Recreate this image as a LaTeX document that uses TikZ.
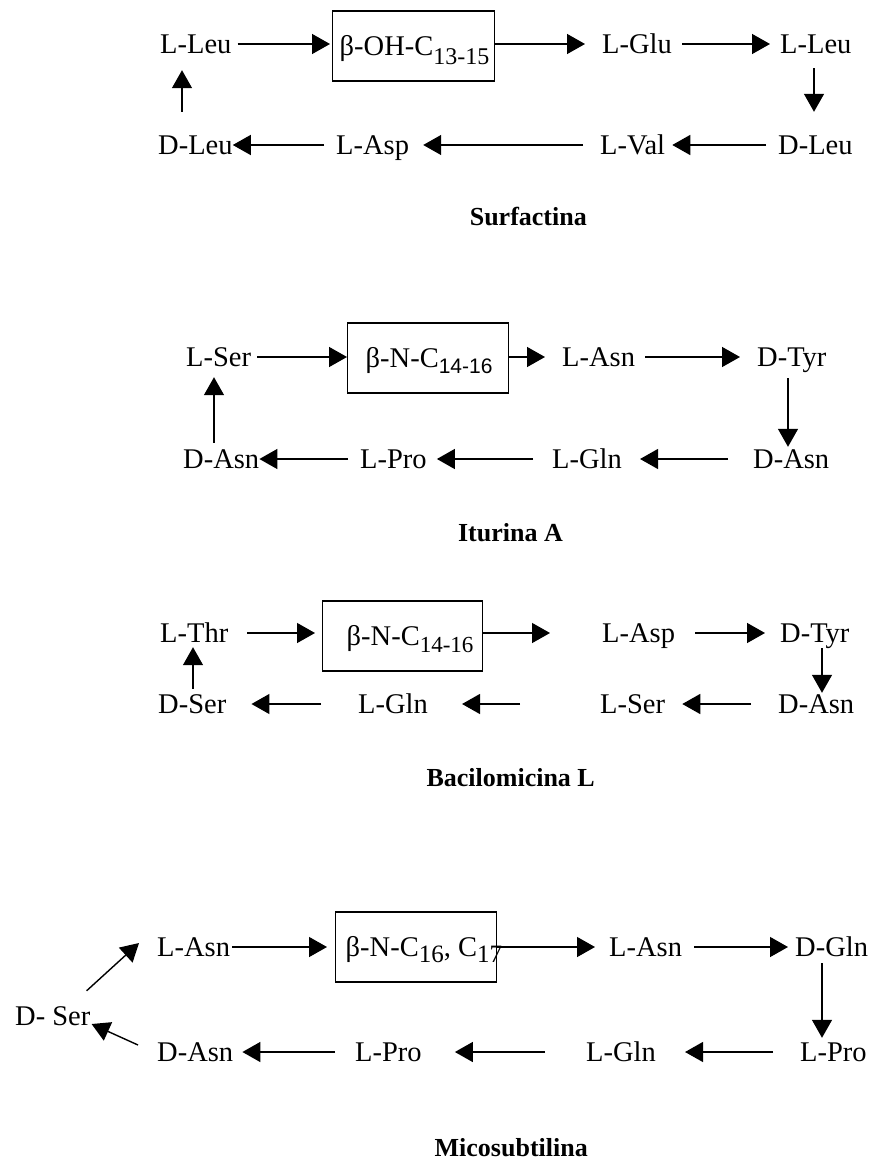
\documentclass[tikz,border=0pt]{standalone}
\usepackage{fontspec}
\setmainfont{Liberation Serif}
\newfontfamily\subsans{Liberation Sans}
\usetikzlibrary{arrows.meta}
\tikzset{
  lbl/.style={inner sep=0pt, anchor=west, font=\fontsize{28.5}{30}\selectfont, text height=19pt, text depth=0pt},
  boxn/.style={lbl, draw, line width=1.4pt, minimum height=70pt},
  ttl/.style={inner sep=0pt, anchor=east, font=\bfseries\fontsize{26}{28}\selectfont, text height=17pt, text depth=0pt},
  arr/.style={line width=1.4pt, -{Triangle[length=18pt,width=20pt]}},
}
\newcommand{\subtxt}[3]{\raisebox{-#1pt}{\fontsize{#2}{#2}\selectfont #3}}
\begin{document}
\begin{tikzpicture}[x=1pt,y=-1pt]
\useasboundingbox (0,0) rectangle (872,1169);

% ---------------- Surfactina
\node[lbl] (s1) at (160,44) {L-Leu};
\node[boxn] (s2) at (332,46) {\makebox[162pt][l]{\hspace{7pt}β-OH-C\subtxt{9}{24}{13-15}}};
\node[lbl] (s3) at (602,44) {L-Glu};
\node[lbl] (s4) at (780,44) {L-Leu};
\node[lbl] (s5) at (778,145) {D-Leu};
\node[lbl] (s6) at (600,145) {L-Val};
\node[lbl] (s7) at (336,145) {L-Asp};
\node[lbl] (s8) at (158,145) {D-Leu};
\node[ttl] (st) at (587,217) {Surfactina};

\draw[arr, shorten <=6pt, shorten >=2pt] (s1.east) -- (s1.east -| s2.west);
\draw[arr, shorten >=17pt] (s2.east |- s3.west) -- (s3.west);
\draw[arr, shorten <=10pt, shorten >=10pt] (s3.east) -- (s4.west);
\draw[arr, shorten <=14.5pt, shorten >=23.5pt] ([xshift=34pt]s4.south west) -- ([xshift=34pt]s4.south west |- s5.north);
\draw[arr, shorten <=12pt, shorten >=7pt] (s5.west) -- (s6.east);
\draw[arr, shorten <=17pt, shorten >=14pt] (s6.west) -- (s7.east);
\draw[arr, shorten <=12pt, shorten >=0pt] (s7.west) -- (s8.east);
\draw[arr, shorten <=23.5pt, shorten >=16.5pt] ([xshift=24pt]s8.north west) -- ([xshift=24pt]s8.north west |- s1.south);

% ---------------- Iturina A
\node[lbl] (t1) at (186,357) {L-Ser};
\node[boxn] (t2) at (347,358) {\makebox[161pt][l]{\hspace{18pt}β-N-C{\subsans\subtxt{6}{21}{14-16}}}};
\node[lbl] (t3) at (562,357) {L-Asn};
\node[lbl] (t4) at (757,357) {D-Tyr};
\node[lbl] (t5) at (753,459) {D-Asn};
\node[lbl] (t6) at (552,459) {L-Gln};
\node[lbl] (t7) at (360,459) {L-Pro};
\node[lbl] (t8) at (183,459) {D-Asn};
\node[ttl] (tt) at (563,533) {Iturina A};

\draw[arr, shorten <=6pt] (t1.east) -- (t1.east -| t2.west);
\draw[arr, shorten >=17pt] (t2.east |- t3.west) -- (t3.west);
\draw[arr, shorten <=10pt, shorten >=17pt] (t3.east) -- (t4.west);
\draw[arr, shorten <=11.5pt, shorten >=2.5pt] ([xshift=31pt]t4.south west) -- ([xshift=31pt]t4.south west |- t5.north);
\draw[arr, shorten <=25pt, shorten >=18pt] (t5.west) -- (t6.east);
\draw[arr, shorten <=19pt, shorten >=10pt] (t6.west) -- (t7.east);
\draw[arr, shorten <=12pt] (t7.west) -- (t8.east);
\draw[arr, shorten <=6.5pt, shorten >=10.5pt] ([xshift=31pt]t8.north west) -- ([xshift=31pt]t8.north west |- t1.south);

% ---------------- Bacilomicina L
\node[lbl] (b1) at (160,633) {L-Thr};
\node[boxn] (b2) at (322,636) {\makebox[160pt][l]{\hspace{24pt}β-N-C\subtxt{7}{23}{14-16}}};
\node[lbl] (b3) at (602,633) {L-Asp};
\node[lbl] (b4) at (780,633) {D-Tyr};
\node[lbl] (b5) at (778,704) {D-Asn};
\node[lbl] (b6) at (600,704) {L-Ser};
\node[lbl] (b7) at (358,704) {L-Gln};
\node[lbl] (b8) at (158,704) {D-Ser};
\node[ttl] (bt) at (595,778) {Bacilomicina L};

\draw[arr, shorten <=19pt, shorten >=7pt] (b1.east) -- (b1.east -| b2.west);
\draw[arr, shorten >=52pt] (b2.east |- b3.west) -- (b3.west);
\draw[arr, shorten <=20pt, shorten >=15pt] (b3.east) -- (b4.west);
\draw[arr, shorten <=5.5pt, shorten >=1.5pt] ([xshift=42pt]b4.south west) -- ([xshift=42pt]b4.south west |- b5.north);
\draw[arr, shorten <=27pt, shorten >=17pt] (b5.west) -- (b6.east);
\draw[arr, shorten <=80pt, shorten >=34pt] (b6.west) -- (b7.east);
\draw[arr, shorten <=37pt, shorten >=25pt] (b7.west) -- (b8.east);
\draw[arr, shorten <=5.5pt, shorten >=4.5pt] ([xshift=35pt]b8.north west) -- ([xshift=35pt]b8.north west |- b1.south);

% ---------------- Micosubtilina
\node[lbl] (m0) at (15,1016) {D- Ser};
\node[lbl] (m1) at (157,947) {L-Asn};
\node[boxn] (m2) at (335,947) {\makebox[161pt][l]{\hspace{10pt}β-N-C\subtxt{6}{25}{16}, C\subtxt{6}{25}{17}}};
\node[lbl] (m3) at (609,947) {L-Asn};
\node[lbl] (m4) at (795,947) {D-Gln};
\node[lbl] (m5) at (800,1052) {L-Pro};
\node[lbl] (m6) at (586,1052) {L-Gln};
\node[lbl] (m7) at (355,1052) {L-Pro};
\node[lbl] (m8) at (157,1052) {D-Asn};
\node[ttl] (mt) at (588,1148) {Micosubtilina};

\draw[arr] ([shift={(-4,-15.5)}]m0.north east) -- ([shift={(-18,-4)}]m1.west);
\draw[arr, shorten <=2pt, shorten >=8pt] (m1.east) -- (m2.west);
\draw[arr, shorten >=14pt] (m2.east) -- (m3.west);
\draw[arr, shorten <=12pt, shorten >=7pt] (m3.east) -- (m4.west);
\draw[arr, shorten <=6.5pt, shorten >=4.5pt] ([xshift=27pt]m4.south west) -- ([xshift=27pt]m4.south west |- m5.north);
\draw[arr, shorten <=27pt, shorten >=29pt] (m5.west) -- (m6.east);
\draw[arr, shorten <=41pt, shorten >=33pt] (m6.west) -- (m7.east);
\draw[arr, shorten <=20pt, shorten >=9pt] (m7.west) -- (m8.east);
\draw[arr] ([shift={(-19,-7)}]m8.west) -- ([shift={(1,8)}]m0.east);
\end{tikzpicture}
\end{document}
